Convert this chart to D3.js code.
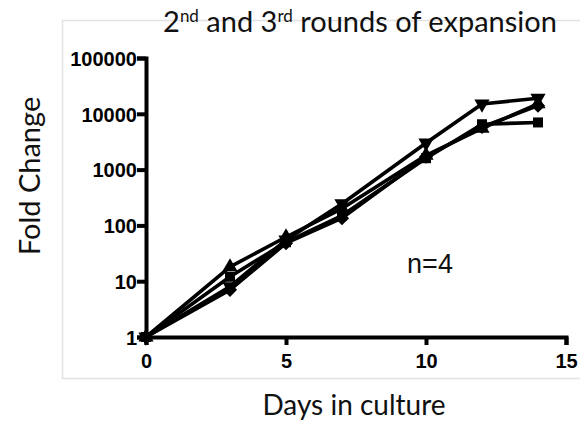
<!DOCTYPE html>
<html>
<head>
<meta charset="utf-8">
<script src="https://cdn.jsdelivr.net/npm/d3@7"></script>
<style>
  body { margin: 0; background: #fff; }
  svg { display: block; }
</style>
</head>
<body>
<div id="chart"></div>
<script>
var width = 580;
var height = 427;

// data
var days = [0, 3, 5, 7, 10, 12, 14];
var seriesA = [1, 8, 55, 245, 3000, 15000, 19000];   // triangle down
var seriesB = [1, 18, 62, 200, 1800, 5500, 15000];   // triangle up
var seriesC = [1, 12, 50, 150, 1600, 6500, 7000];    // square
var seriesD = [1, 7, 48, 135, 1700, 5800, 14000];    // diamond
var xTicks = [0, 5, 10, 15];
var yTicks = [1, 10, 100, 1000, 10000, 100000];

var series = [
  { name: 'A', values: seriesA, symbol: d3.symbolTriangle, rotate: 180 },
  { name: 'B', values: seriesB, symbol: d3.symbolTriangle, rotate: 0 },
  { name: 'C', values: seriesC, symbol: d3.symbolSquare, rotate: 0 },
  { name: 'D', values: seriesD, symbol: d3.symbolSquare, rotate: 45 }
];

var x = d3.scaleLinear().domain([0, 15]).range([146, 566]);
var y = d3.scaleLog().domain([1, 100000]).range([337, 58]);

var svg = d3.select('#chart')
    .append('svg')
    .attr('width', width)
    .attr('height', height);

// faint frame around the plot
svg.append('rect')
    .attr('x', 62.5)
    .attr('y', 20.5)
    .attr('width', 530)
    .attr('height', 358)
    .attr('fill', 'none')
    .attr('stroke', '#e2e2e2')
    .attr('stroke-width', 1.5);

svg.append('text')
    .attr('x', 360)
    .attr('y', 32)
    .attr('text-anchor', 'middle')
    .style('font-family', 'Lato, sans-serif')
    .style('font-size', '29px')
    .style('fill', '#111')
    .html('2<tspan baseline-shift="super" font-size="17px">nd</tspan> and 3<tspan baseline-shift="super" font-size="17px">rd</tspan> rounds of expansion');

var line = d3.line()
    .x(function(d, i) { return x(days[i]); })
    .y(function(d) { return y(d); });

var g = svg.selectAll('.series')
    .data(series)
    .enter()
    .append('g')
    .attr('class', 'series');

g.append('path')
    .attr('d', function(d) { return line(d.values); })
    .attr('fill', 'none')
    .attr('stroke', '#000')
    .attr('stroke-width', 3.6)
    .attr('stroke-linejoin', 'round');

g.each(function(s) {
  d3.select(this).selectAll('path.pt')
    .data(s.values)
    .enter()
    .append('path')
    .attr('class', 'pt')
    .attr('d', d3.symbol().type(s.symbol).size(100))
    .attr('transform', function(d, i) {
      return 'translate(' + x(days[i]) + ',' + y(d) + ') rotate(' + s.rotate + ')';
    })
    .attr('fill', '#000');
});

var yAxis = d3.axisLeft(y)
    .tickValues(yTicks)
    .tickFormat(d3.format('d'))
    .tickSizeOuter(0)
    .tickSize(9)
    .tickPadding(0);

var xAxis = d3.axisBottom(x)
    .tickValues(xTicks)
    .tickSizeOuter(0)
    .tickSize(8)
    .tickPadding(9);

var ya = svg.append('g')
    .attr('transform', 'translate(146,0)')
    .call(yAxis);

var xa = svg.append('g')
    .attr('transform', 'translate(0,337)')
    .call(xAxis);

[ya, xa].forEach(function(a) {
  a.select('.domain').attr('stroke-width', 4);
  a.selectAll('.tick line').attr('stroke-width', 4);
  a.selectAll('.tick text')
    .style('font-family', '"Liberation Sans", Arial, sans-serif')
    .style('font-weight', 'bold')
    .style('font-size', '20px')
    .style('fill', '#000');
});
ya.selectAll('.tick text').attr('dy', '0.36em');

svg.append('text')
    .attr('transform', 'translate(40,176) rotate(-90)')
    .attr('text-anchor', 'middle')
    .style('font-family', 'Lato, sans-serif')
    .style('font-size', '29px')
    .style('fill', '#111')
    .text('Fold Change');

svg.append('text')
    .attr('x', 354)
    .attr('y', 415)
    .attr('text-anchor', 'middle')
    .style('font-family', 'Lato, sans-serif')
    .style('font-size', '28px')
    .style('fill', '#111')
    .text('Days in culture');

svg.append('text')
    .attr('x', 430)
    .attr('y', 273)
    .attr('text-anchor', 'middle')
    .style('font-family', '"Liberation Sans", Arial, sans-serif')
    .style('font-size', '27px')
    .style('fill', '#111')
    .text('n=4');
</script>
</body>
</html>
